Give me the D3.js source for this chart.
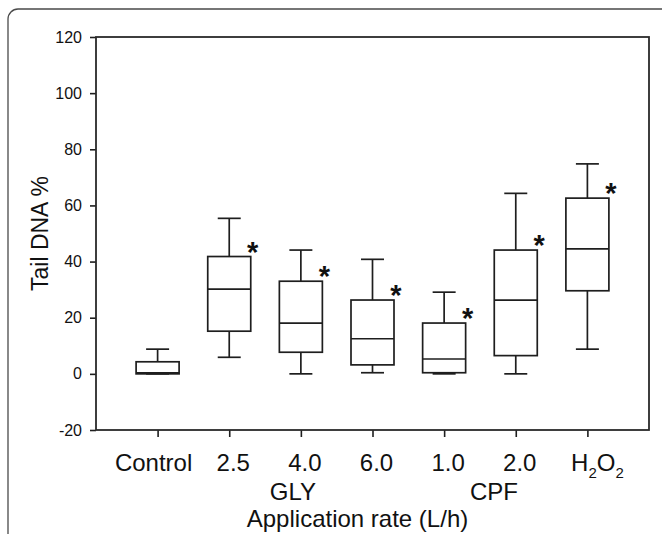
<!DOCTYPE html>
<html>
<head>
<meta charset="utf-8">
<script src="https://cdn.jsdelivr.net/npm/d3@7"></script>
<style>
  html, body { margin: 0; padding: 0; background: #fff; }
  svg { display: block; font-family: "Liberation Sans", Arial, sans-serif; }
</style>
</head>
<body>
<div id="chart"></div>
<script>
// ---- data ----
const categories = ["Control", "2.5", "4.0", "6.0", "1.0", "2.0", "H2O2"];
const whiskerLow  = [0,    5.9,  0,    0.4,  0,    0,    8.8];
const quartile1   = [0,    15.2, 7.7,  3.2,  0.4,  6.5,  29.6];
const medians     = [0.35, 30.2, 18.1, 12.5, 5.3,  26.3, 44.5];
const quartile3   = [4.3,  41.8, 33.0, 26.3, 18.1, 44.1, 62.6];
const whiskerHigh = [8.8,  55.4, 44.1, 40.8, 29.1, 64.3, 74.8];
const significant = [false, true, true, true, true, true, true];
const groupNames   = ["GLY", "CPF"];
const groupMembers = [["2.5", "4.0", "6.0"], ["1.0", "2.0"]];
const yTicks = [-20, 0, 20, 40, 60, 80, 100, 120];
const yLabel = "Tail DNA %";
const xLabel = "Application rate (L/h)";

// ---- layout ----
const W = 662, H = 534;
const pLeft = 96, pRight = 649, pTop = 37, pBottom = 430;
const boxW = 43, capW = 23;
const ink = "#1e1e1e";
const labelNudge = { "Control": -4, "H2O2": 10 };

const svg = d3.select("#chart").append("svg")
  .attr("width", W).attr("height", H);

// outer frame (rounded, cropped at right/bottom)
svg.append("rect")
  .attr("x", 8).attr("y", 9).attr("width", 720).attr("height", 620)
  .attr("rx", 10).attr("ry", 10)
  .attr("fill", "none").attr("stroke", "#4a4a4a").attr("stroke-width", 1.3);

const x = d3.scalePoint().domain(categories).range([pLeft, pRight]).padding(0.86);
const y = d3.scaleLinear().domain([-20, 120]).range([pBottom, pTop]);

// y axis
const yAxis = svg.append("g")
  .attr("transform", `translate(${pLeft},0)`)
  .call(d3.axisLeft(y).tickValues(yTicks).tickFormat(d => String(d))
    .tickSize(6).tickSizeOuter(0).tickPadding(8));
yAxis.select(".domain").remove();
yAxis.selectAll(".tick line").attr("stroke", ink).attr("stroke-width", 1.6);
yAxis.selectAll(".tick text").attr("font-size", 16).attr("fill", "#111")
  .attr("font-family", "Liberation Sans, Arial, sans-serif");

// x axis ticks
const xAxis = svg.append("g")
  .attr("transform", `translate(0,${pBottom})`)
  .call(d3.axisBottom(x).tickSize(7).tickSizeOuter(0).tickFormat(""));
xAxis.select(".domain").remove();
xAxis.selectAll(".tick line").attr("stroke", ink).attr("stroke-width", 1.6);

// plot frame
svg.append("rect")
  .attr("x", pLeft).attr("y", pTop).attr("width", pRight - pLeft).attr("height", pBottom - pTop)
  .attr("fill", "none").attr("stroke", "#2a2a2a").attr("stroke-width", 1.8);

// boxes
const data = categories.map((c, i) => ({
  c, lo: whiskerLow[i], q1: quartile1[i], med: medians[i], q3: quartile3[i], hi: whiskerHigh[i], sig: significant[i]
}));

const g = svg.append("g").attr("stroke", ink).attr("stroke-width", 1.7).attr("fill", "none");
data.forEach(d => {
  const cx = x(d.c);
  g.append("line").attr("x1", cx).attr("x2", cx).attr("y1", y(d.q3)).attr("y2", y(d.hi));
  g.append("line").attr("x1", cx).attr("x2", cx).attr("y1", y(d.q1)).attr("y2", y(d.lo));
  g.append("line").attr("x1", cx - capW / 2).attr("x2", cx + capW / 2).attr("y1", y(d.hi)).attr("y2", y(d.hi));
  g.append("line").attr("x1", cx - capW / 2).attr("x2", cx + capW / 2).attr("y1", y(d.lo)).attr("y2", y(d.lo));
  g.append("rect").attr("x", cx - boxW / 2).attr("width", boxW)
    .attr("y", y(d.q3)).attr("height", y(d.q1) - y(d.q3)).attr("fill", "#fff");
  g.append("line").attr("x1", cx - boxW / 2).attr("x2", cx + boxW / 2).attr("y1", y(d.med)).attr("y2", y(d.med));
  if (d.sig) {
    svg.append("text")
      .attr("x", cx + boxW / 2 + 2).attr("y", y(d.q3) + 5)
      .attr("text-anchor", "middle").attr("font-size", 29).attr("font-weight", "bold")
      .attr("fill", "#111")
      .text("*");
  }
});

// x tick labels
const labelRow = 471;
const tl = svg.append("g").attr("font-size", 24).attr("fill", "#111").attr("text-anchor", "middle");
categories.forEach(c => {
  const nudge = labelNudge[c] !== undefined ? labelNudge[c] : 4;
  const t = tl.append("text").attr("x", x(c) + nudge).attr("y", labelRow);
  if (c === "H2O2") {
    t.append("tspan").text("H");
    t.append("tspan").attr("font-size", 15).attr("dy", 7).text("2");
    t.append("tspan").attr("dy", -7).text("O");
    t.append("tspan").attr("font-size", 15).attr("dy", 7).text("2");
  } else {
    t.text(c);
  }
});

// group labels
const groupShift = [-8, 14];
groupNames.forEach((name, i) => {
  const xs = groupMembers[i].map(m => x(m));
  tl.append("text").attr("x", d3.mean(xs) + groupShift[i]).attr("y", 500).text(name);
});

// axis titles
svg.append("text")
  .attr("x", (pLeft + pRight) / 2 - 15).attr("y", 527)
  .attr("text-anchor", "middle").attr("font-size", 24).attr("fill", "#111")
  .text(xLabel);

svg.append("text")
  .attr("transform", `translate(48,${(pTop + pBottom) / 2}) rotate(-90)`)
  .attr("text-anchor", "middle").attr("font-size", 23).attr("fill", "#111")
  .text(yLabel);
</script>
</body>
</html>
